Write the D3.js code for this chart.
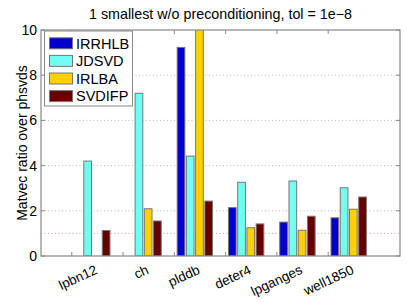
<!DOCTYPE html>
<html>
<head>
<meta charset="utf-8">
<script src="https://cdn.jsdelivr.net/npm/d3@7"></script>
<style>
  body { margin: 0; background: #fff; }
  svg { display: block; }
</style>
</head>
<body>
<div id="chart"></div>
<script>
// data
var categories = ["lpbn12", "ch", "plddb", "deter4", "lpganges", "well1850"];
var seriesNames = ["IRRHLB", "JDSVD", "IRLBA", "SVDIFP"];
var IRRHLB = [0, 0, 9.23, 2.14, 1.5, 1.69];
var JDSVD = [4.2, 7.2, 4.42, 3.26, 3.32, 3.02];
var IRLBA = [0, 2.09, 10.4, 1.25, 1.14, 2.07];
var SVDIFP = [1.13, 1.55, 2.43, 1.42, 1.76, 2.61];
var yTicks = [0, 2, 4, 6, 8, 10];
var refValue = 1;

var title = "1 smallest w/o preconditioning, tol = 1e\u22128";
var yLabel = "Matvec ratio over phsvds";

var colors = ["#0000cc", "#70fff0", "#ffd000", "#660000"];
var allSeries = [IRRHLB, JDSVD, IRLBA, SVDIFP];

var width = 407, height = 303;
var margin = {left: 41, right: 7, top: 30, bottom: 47};
var font = "'Liberation Sans', Arial, Helvetica, sans-serif";

var x = d3.scaleLinear().domain([0, categories.length + 1]).range([margin.left, width - margin.right]);
var y = d3.scaleLinear().domain([0, 10]).range([height - margin.bottom, margin.top]);

var pitch = 0.18, barW = 0.15;

var svg = d3.select("#chart").append("svg")
    .attr("width", width)
    .attr("height", height)
    .style("font-family", font);

svg.append("defs").append("clipPath").attr("id", "plotclip")
    .append("rect")
    .attr("x", x.range()[0]).attr("y", y.range()[1])
    .attr("width", x.range()[1] - x.range()[0])
    .attr("height", y.range()[0] - y.range()[1]);

// grid lines
svg.append("g").selectAll("line")
    .data(yTicks.filter(function(d){ return d > 0 && d < 10; }))
    .enter().append("line")
    .attr("x1", x.range()[0]).attr("x2", x.range()[1])
    .attr("y1", function(d){ return y(d); })
    .attr("y2", function(d){ return y(d); })
    .attr("stroke", "#aaa")
    .attr("stroke-width", 0.8)
    .attr("stroke-dasharray", "1,2.5");

// reference line at 1
svg.append("line")
    .attr("x1", x.range()[0]).attr("x2", x.range()[1])
    .attr("y1", y(refValue)).attr("y2", y(refValue))
    .attr("stroke", "#f08080")
    .attr("stroke-width", 0.8)
    .attr("stroke-dasharray", "1,2.5");

// bars
var barData = [];
allSeries.forEach(function(vals, s) {
    vals.forEach(function(v, i) {
        if (v > 0) barData.push({s: s, i: i, v: v});
    });
});

svg.append("g").attr("clip-path", "url(#plotclip)")
    .selectAll("rect")
    .data(barData)
    .enter().append("rect")
    .attr("x", function(d){ return x(d.i + 1 + (d.s - 1.5) * pitch - barW / 2); })
    .attr("width", function(d){ return x(barW) - x(0); })
    .attr("y", function(d){ return y(d.v); })
    .attr("height", function(d){ return y(0) - y(d.v); })
    .attr("fill", function(d){ return colors[d.s]; })
    .attr("stroke", "#777")
    .attr("stroke-width", 1);

// axes box
var axisColor = "#888";
svg.append("rect")
    .attr("x", x.range()[0]).attr("y", y.range()[1])
    .attr("width", x.range()[1] - x.range()[0])
    .attr("height", y.range()[0] - y.range()[1])
    .attr("fill", "none")
    .attr("stroke", axisColor)
    .attr("stroke-width", 1.2);

// x ticks (offset left of the group centres)
var xTickPos = categories.map(function(c, i){ return i + 0.6; });
var tk = svg.append("g").attr("stroke", axisColor).attr("stroke-width", 1);
xTickPos.forEach(function(t) {
    tk.append("line").attr("x1", x(t)).attr("x2", x(t))
        .attr("y1", y(0)).attr("y2", y(0) - 4);
    tk.append("line").attr("x1", x(t)).attr("x2", x(t))
        .attr("y1", y(10)).attr("y2", y(10) + 4);
});
yTicks.forEach(function(t) {
    tk.append("line").attr("x1", x.range()[0]).attr("x2", x.range()[0] + 4)
        .attr("y1", y(t)).attr("y2", y(t));
    tk.append("line").attr("x1", x.range()[1]).attr("x2", x.range()[1] - 4)
        .attr("y1", y(t)).attr("y2", y(t));
});

// y tick labels
svg.append("g").selectAll("text")
    .data(yTicks)
    .enter().append("text")
    .attr("x", x.range()[0] - 4)
    .attr("y", function(d){ return y(d); })
    .attr("dy", "0.35em")
    .attr("text-anchor", "end")
    .attr("font-size", "14px")
    .text(function(d){ return d; });

// x tick labels, rotated
svg.append("g").selectAll("text")
    .data(categories)
    .enter().append("text")
    .attr("transform", function(d, i){
        return "translate(" + (x(i + 1) + 6) + "," + (y(0) + 17) + ") rotate(-25)";
    })
    .attr("text-anchor", "end")
    .attr("font-size", "13.5px")
    .text(function(d){ return d; });

// title
svg.append("text")
    .attr("x", (x.range()[0] + x.range()[1]) / 2)
    .attr("y", 19)
    .attr("text-anchor", "middle")
    .attr("font-size", "14.3px")
    .text(title);

// y label
svg.append("text")
    .attr("transform", "translate(27," + ((y.range()[0] + y.range()[1]) / 2) + ") rotate(-90)")
    .attr("text-anchor", "middle")
    .attr("font-size", "14px")
    .text(yLabel);

// legend
var lg = svg.append("g");
lg.append("rect")
    .attr("x", 44.5).attr("y", 31)
    .attr("width", 88).attr("height", 75)
    .attr("fill", "#fff")
    .attr("stroke", axisColor)
    .attr("stroke-width", 1);
var rowH = 17.6;
seriesNames.forEach(function(name, s) {
    var cy = 43.3 + s * rowH;
    lg.append("rect")
        .attr("x", 49.5).attr("y", cy - 5.5)
        .attr("width", 23).attr("height", 11)
        .attr("fill", colors[s])
        .attr("stroke", "#777");
    lg.append("text")
        .attr("x", 76).attr("y", cy)
        .attr("dy", "0.36em")
        .attr("font-size", "14.5px")
        .text(name);
});
</script>
</body>
</html>
